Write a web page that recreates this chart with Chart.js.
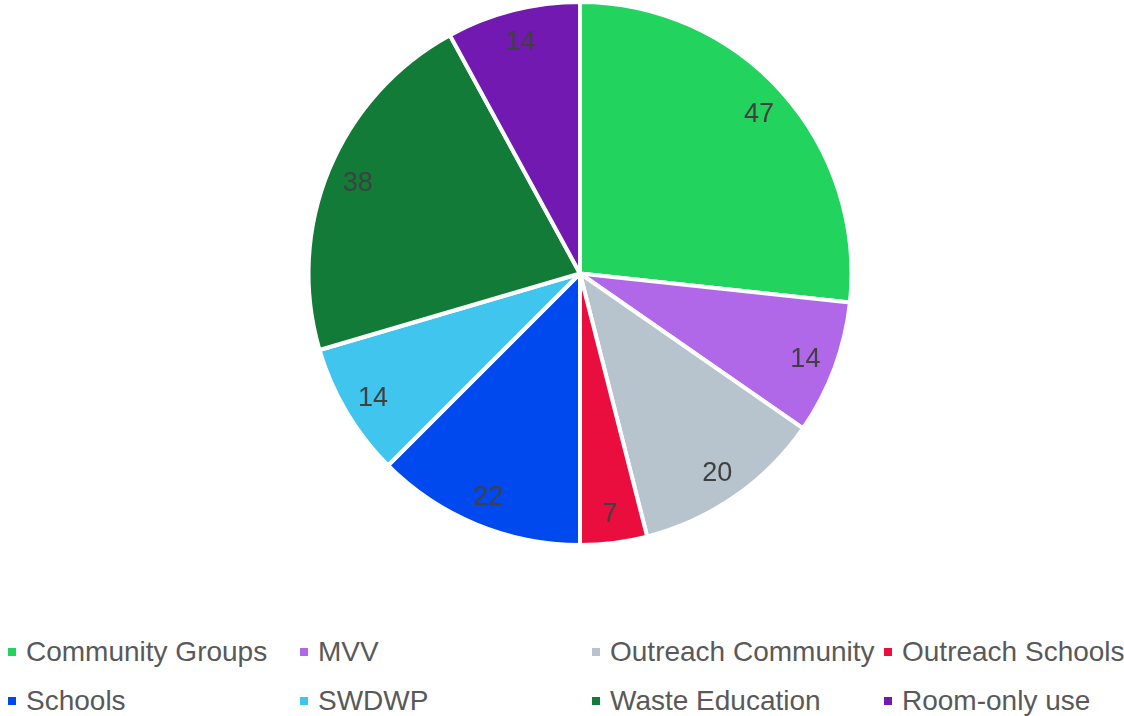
<!DOCTYPE html>
<html>
<head>
<meta charset="utf-8">
<script src="https://cdn.jsdelivr.net/npm/chart.js@4.4.1/dist/chart.umd.min.js"></script>
<style>
    html, body {
        margin: 0;
        padding: 0;
        width: 1124px;
        height: 716px;
        overflow: hidden;
        background: #ffffff;
        font-family: "Liberation Sans", Arial, sans-serif;
    }
    #chartBox {
        position: absolute;
        left: 0;
        top: 0;
        width: 1124px;
        height: 547px;
    }
    #legend {
        position: absolute;
        left: 8px;
        top: 627px;
        display: grid;
        grid-template-columns: repeat(4, 292px);
        grid-auto-rows: 49px;
        white-space: nowrap;
    }
    .legend-item {
        display: flex;
        align-items: center;
        font-size: 28px;
        color: #595959;
    }
    .legend-box {
        width: 8px;
        height: 8px;
        margin-right: 10px;
        flex: none;
    }
</style>
</head>
<body>
<div id="chartBox"><canvas id="pieChart"></canvas></div>
<div id="legend"></div>

<script>
const categories = [
    "Community Groups",
    "MVV",
    "Outreach Community",
    "Outreach Schools",
    "Schools",
    "SWDWP",
    "Waste Education",
    "Room-only use"
];
const values = [47, 14, 20, 7, 22, 14, 38, 14];
const colors = [
    "#22d35d",
    "#b068e8",
    "#b7c4cd",
    "#e90e3e",
    "#0049ee",
    "#40c5ef",
    "#127b37",
    "#7219b1"
];

// draws the value inside each slice, near the outer edge
const sliceLabels = {
    id: "sliceLabels",
    afterDatasetsDraw(chart) {
        const ctx = chart.ctx;
        const meta = chart.getDatasetMeta(0);
        ctx.save();
        ctx.font = "27px 'Liberation Sans', Arial, sans-serif";
        ctx.fillStyle = "#404040";
        ctx.textAlign = "center";
        ctx.textBaseline = "middle";
        meta.data.forEach((arc, i) => {
            const p = arc.getProps(["x", "y", "startAngle", "endAngle", "outerRadius"], true);
            const mid = (p.startAngle + p.endAngle) / 2;
            const r = p.outerRadius * 0.886;
            ctx.fillText(String(values[i]), p.x + Math.cos(mid) * r, p.y + Math.sin(mid) * r + 2);
        });
        ctx.restore();
    }
};

new Chart(document.getElementById("pieChart"), {
    type: "pie",
    data: {
        labels: categories,
        datasets: [{
            data: values,
            backgroundColor: colors,
            borderColor: "#ffffff",
            borderWidth: 4
        }]
    },
    options: {
        responsive: true,
        maintainAspectRatio: false,
        animation: false,
        layout: {
            padding: { left: 36, right: 0, top: 0, bottom: 0 }
        },
        plugins: {
            legend: { display: false },
            tooltip: { enabled: false }
        }
    },
    plugins: [sliceLabels]
});

const legend = document.getElementById("legend");
categories.forEach((name, i) => {
    legend.innerHTML += `
        <div class="legend-item">
            <span class="legend-box" style="background:${colors[i]}"></span>${name}
        </div>
    `;
});
</script>
</body>
</html>
